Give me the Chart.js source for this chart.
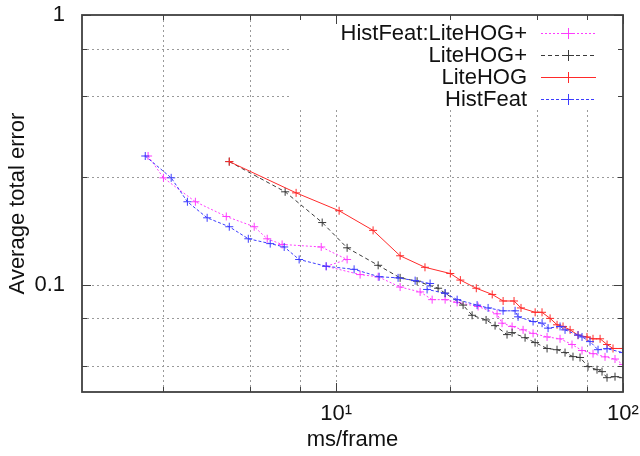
<!DOCTYPE html>
<html>
<head>
<meta charset="utf-8">
<script src="https://cdn.jsdelivr.net/npm/chart.js@4/dist/chart.umd.min.js"></script>
<style>
  html, body { margin: 0; padding: 0; background: #ffffff; }
  #wrap { width: 640px; height: 456px; }
</style>
</head>
<body>
<div id="wrap"><canvas id="c" width="640" height="456"></canvas></div>
<script>
// ---- data ----
const seriesNames = ["HistFeat:LiteHOG+", "LiteHOG+", "LiteHOG", "HistFeat"];

const hybridX = [2.21,2.50,3.23,4.14,5.18,5.75,6.48,8.87,10.92,9.23,12.12,14.01,16.71,19.62,21.61,23.98,26.41,31.25,36.39,37.88,41.05,44.84,48.58,54.36,60.33,66.41,71.97,78.61,86.56,93.78,100];
const hybridY = [0.300,0.249,0.203,0.179,0.164,0.148,0.141,0.138,0.124,0.117,0.109,0.107,0.098,0.094,0.088,0.088,0.086,0.083,0.078,0.072,0.070,0.068,0.066,0.064,0.063,0.060,0.057,0.0555,0.054,0.053,0.0506];

const liteHogPlusX = [4.24,6.64,8.94,10.92,14.01,16.71,19.15,22.67,23.98,27.70,29.78,33.32,35.81,39.42,41.05,45.56,49.37,54.36,58.88,62.80,66.94,70.83,75.51,81.18,84.50,87.96,93.78,100];
const liteHogPlusY = [0.286,0.221,0.170,0.137,0.118,0.106,0.103,0.097,0.093,0.084,0.077,0.074,0.0705,0.0653,0.0664,0.0636,0.061,0.058,0.0574,0.056,0.0541,0.0537,0.0497,0.0484,0.0476,0.0452,0.0456,0.0452];

const liteHogX = [4.24,7.25,10.24,13.45,16.71,20.4,25.0,27.1,30.8,35.0,38.2,41.7,44.1,49.4,52.2,55.7,58.9,61.8,65.4,69.7,74.9,78.6,83.2,88.0,92.3,100];
const liteHogY = [0.286,0.219,0.188,0.159,0.128,0.116,0.110,0.104,0.097,0.092,0.087,0.087,0.082,0.079,0.079,0.075,0.071,0.070,0.068,0.065,0.064,0.063,0.063,0.060,0.058,0.058];

const histFeatX = [2.16,2.66,3.03,3.55,4.24,4.94,5.89,6.59,7.43,9.23,11.55,14.12,16.44,18.85,21.26,20.75,23.98,26.41,31.00,33.86,38.19,42.05,43.07,48.58,52.23,54.80,60.33,62.80,69.70,71.97,76.74,81.84,87.96,100];
const histFeatY = [0.300,0.249,0.203,0.177,0.164,0.148,0.142,0.138,0.124,0.117,0.114,0.107,0.106,0.1035,0.101,0.096,0.093,0.088,0.084,0.082,0.080,0.080,0.076,0.073,0.072,0.069,0.070,0.068,0.065,0.064,0.0615,0.0574,0.0579,0.056];

// axis ticks / labels
const xTickValues = [2.5, 5, 7.5, 10, 25, 50, 75, 100];
const xMajorTicks = [10, 100];
const xTickLabels = {10: "10\u00B9", 100: "10\u00B2"};
const yTickValues = [0.05, 0.075, 0.1, 0.25, 0.5, 0.75, 1];
const yMajorTicks = [0.1, 1];
const yTickLabels = {0.1: "0.1", 1: "1"};
const xRange = [1.3, 100];
const yRange = [0.04, 1];
const xTitle = "ms/frame";
const yTitle = "Average total error";

function pts(xs, ys) { return xs.map((x, i) => ({x: x, y: ys[i]})); }

const styles = {
  "HistFeat:LiteHOG+": {color: "#ff3cff", dash: [2, 2]},
  "LiteHOG+":          {color: "#3a3a3a", dash: [4, 3]},
  "LiteHOG":           {color: "#ff2a2a", dash: []},
  "HistFeat":          {color: "#3c3cff", dash: [3, 2]}
};
const seriesData = {
  "HistFeat:LiteHOG+": pts(hybridX, hybridY),
  "LiteHOG+": pts(liteHogPlusX, liteHogPlusY),
  "LiteHOG": pts(liteHogX, liteHogY),
  "HistFeat": pts(histFeatX, histFeatY)
};

// Chart.js draws the first dataset on top, gnuplot draws the last on top
const datasets = seriesNames.slice().reverse().map(name => ({
  label: name,
  data: seriesData[name],
  showLine: true,
  borderColor: styles[name].color,
  backgroundColor: styles[name].color,
  borderWidth: 1,
  borderDash: styles[name].dash,
  pointStyle: 'cross',
  pointRadius: 4,
  pointBorderWidth: 1,
  pointHoverRadius: 4,
  tension: 0
}));

const FONT = "'Liberation Sans', Arial, Helvetica, sans-serif";
const legendBox = {x1: 290, y1: 15, x2: 623, y2: 108};

const gnuplotDecor = {
  id: 'gnuplotDecor',
  beforeDatasetsDraw(chart) {
    const ctx = chart.ctx, a = chart.chartArea;
    const xs = chart.scales.x, ys = chart.scales.y;
    ctx.save();
    ctx.strokeStyle = '#9a9a9a';
    ctx.lineWidth = 1;
    ctx.setLineDash([2, 3]);
    xTickValues.forEach(v => {
      if (v >= xRange[1]) return;
      const px = Math.round(xs.getPixelForValue(v)) + 0.5;
      ctx.beginPath(); ctx.moveTo(px, a.top); ctx.lineTo(px, a.bottom); ctx.stroke();
    });
    yTickValues.forEach(v => {
      if (v >= yRange[1]) return;
      const py = Math.round(ys.getPixelForValue(v)) + 0.5;
      ctx.beginPath(); ctx.moveTo(a.left, py); ctx.lineTo(a.right, py); ctx.stroke();
    });
    ctx.setLineDash([]);
    // key area hides the grid
    ctx.fillStyle = '#ffffff';
    ctx.fillRect(legendBox.x1, legendBox.y1, legendBox.x2 - legendBox.x1, legendBox.y2 - legendBox.y1);
    ctx.restore();
  },
  afterDatasetsDraw(chart) {
    const ctx = chart.ctx, a = chart.chartArea;
    const xs = chart.scales.x, ys = chart.scales.y;
    ctx.save();
    // tick marks (inward, all four sides)
    ctx.strokeStyle = '#404040';
    ctx.lineWidth = 1;
    xTickValues.forEach(v => {
      const px = Math.round(xs.getPixelForValue(v)) + 0.5;
      const len = xMajorTicks.includes(v) ? 9 : 5;
      ctx.beginPath();
      ctx.moveTo(px, a.bottom); ctx.lineTo(px, a.bottom - len);
      ctx.moveTo(px, a.top); ctx.lineTo(px, a.top + len);
      ctx.stroke();
    });
    yTickValues.forEach(v => {
      const py = Math.round(ys.getPixelForValue(v)) + 0.5;
      const len = yMajorTicks.includes(v) ? 9 : 5;
      ctx.beginPath();
      ctx.moveTo(a.left, py); ctx.lineTo(a.left + len, py);
      ctx.moveTo(a.right, py); ctx.lineTo(a.right - len, py);
      ctx.stroke();
    });
    // frame
    ctx.lineWidth = 1.8;
    ctx.strokeStyle = '#404040';
    ctx.strokeRect(a.left, a.top, a.right - a.left, a.bottom - a.top);
    // key
    const rows = [33, 55, 77, 99];
    ctx.font = "22px " + FONT;
    ctx.textAlign = 'right';
    ctx.textBaseline = 'middle';
    seriesNames.forEach((name, i) => {
      const y = rows[i];
      ctx.fillStyle = '#111111';
      ctx.fillText(name, 527, y + 1);
      const st = styles[name];
      ctx.strokeStyle = st.color;
      ctx.lineWidth = 1;
      ctx.setLineDash(st.dash);
      ctx.beginPath(); ctx.moveTo(541, y + 0.5); ctx.lineTo(596, y + 0.5); ctx.stroke();
      ctx.setLineDash([]);
      ctx.beginPath();
      ctx.moveTo(568.5, y - 5); ctx.lineTo(568.5, y + 6);
      ctx.moveTo(563, y + 0.5); ctx.lineTo(574, y + 0.5);
      ctx.stroke();
    });
    ctx.restore();
  }
};

new Chart(document.getElementById('c'), {
  type: 'scatter',
  data: { datasets: datasets },
  options: {
    responsive: false,
    animation: false,
    events: [],
    layout: { padding: { top: 15, right: 17, left: 0, bottom: 0 }, autoPadding: false },
    plugins: { legend: { display: false }, tooltip: { enabled: false } },
    scales: {
      x: {
        type: 'logarithmic',
        min: xRange[0], max: xRange[1],
        grid: { display: false, drawTicks: false },
        border: { display: false },
        afterBuildTicks: s => { s.ticks = xTickValues.map(v => ({value: v})); },
        afterFit: s => { s.height = 64; s.paddingLeft = 0; s.paddingRight = 0; s.paddingTop = 0; s.paddingBottom = 0; },
        ticks: {
          autoSkip: false, maxRotation: 0, minRotation: 0, padding: 9,
          color: '#111111', font: { family: FONT, size: 22 },
          callback: v => xTickLabels[v] || ''
        },
        title: { display: true, text: xTitle, color: '#111111', font: { family: FONT, size: 22 }, padding: { top: 0, bottom: 3 } }
      },
      y: {
        type: 'logarithmic',
        min: yRange[0], max: yRange[1],
        grid: { display: false, drawTicks: false },
        border: { display: false },
        afterBuildTicks: s => { s.ticks = yTickValues.map(v => ({value: v})); },
        afterFit: s => { s.width = 82; s.paddingLeft = 0; s.paddingRight = 0; s.paddingTop = 0; s.paddingBottom = 0; },
        ticks: {
          autoSkip: false, padding: 17,
          color: '#111111', font: { family: FONT, size: 22 },
          callback: v => yTickLabels[v] || ''
        },
        title: { display: true, text: yTitle, color: '#111111', font: { family: FONT, size: 22 }, padding: { top: 5, bottom: 0 } }
      }
    }
  },
  plugins: [gnuplotDecor]
});
</script>
</body>
</html>
